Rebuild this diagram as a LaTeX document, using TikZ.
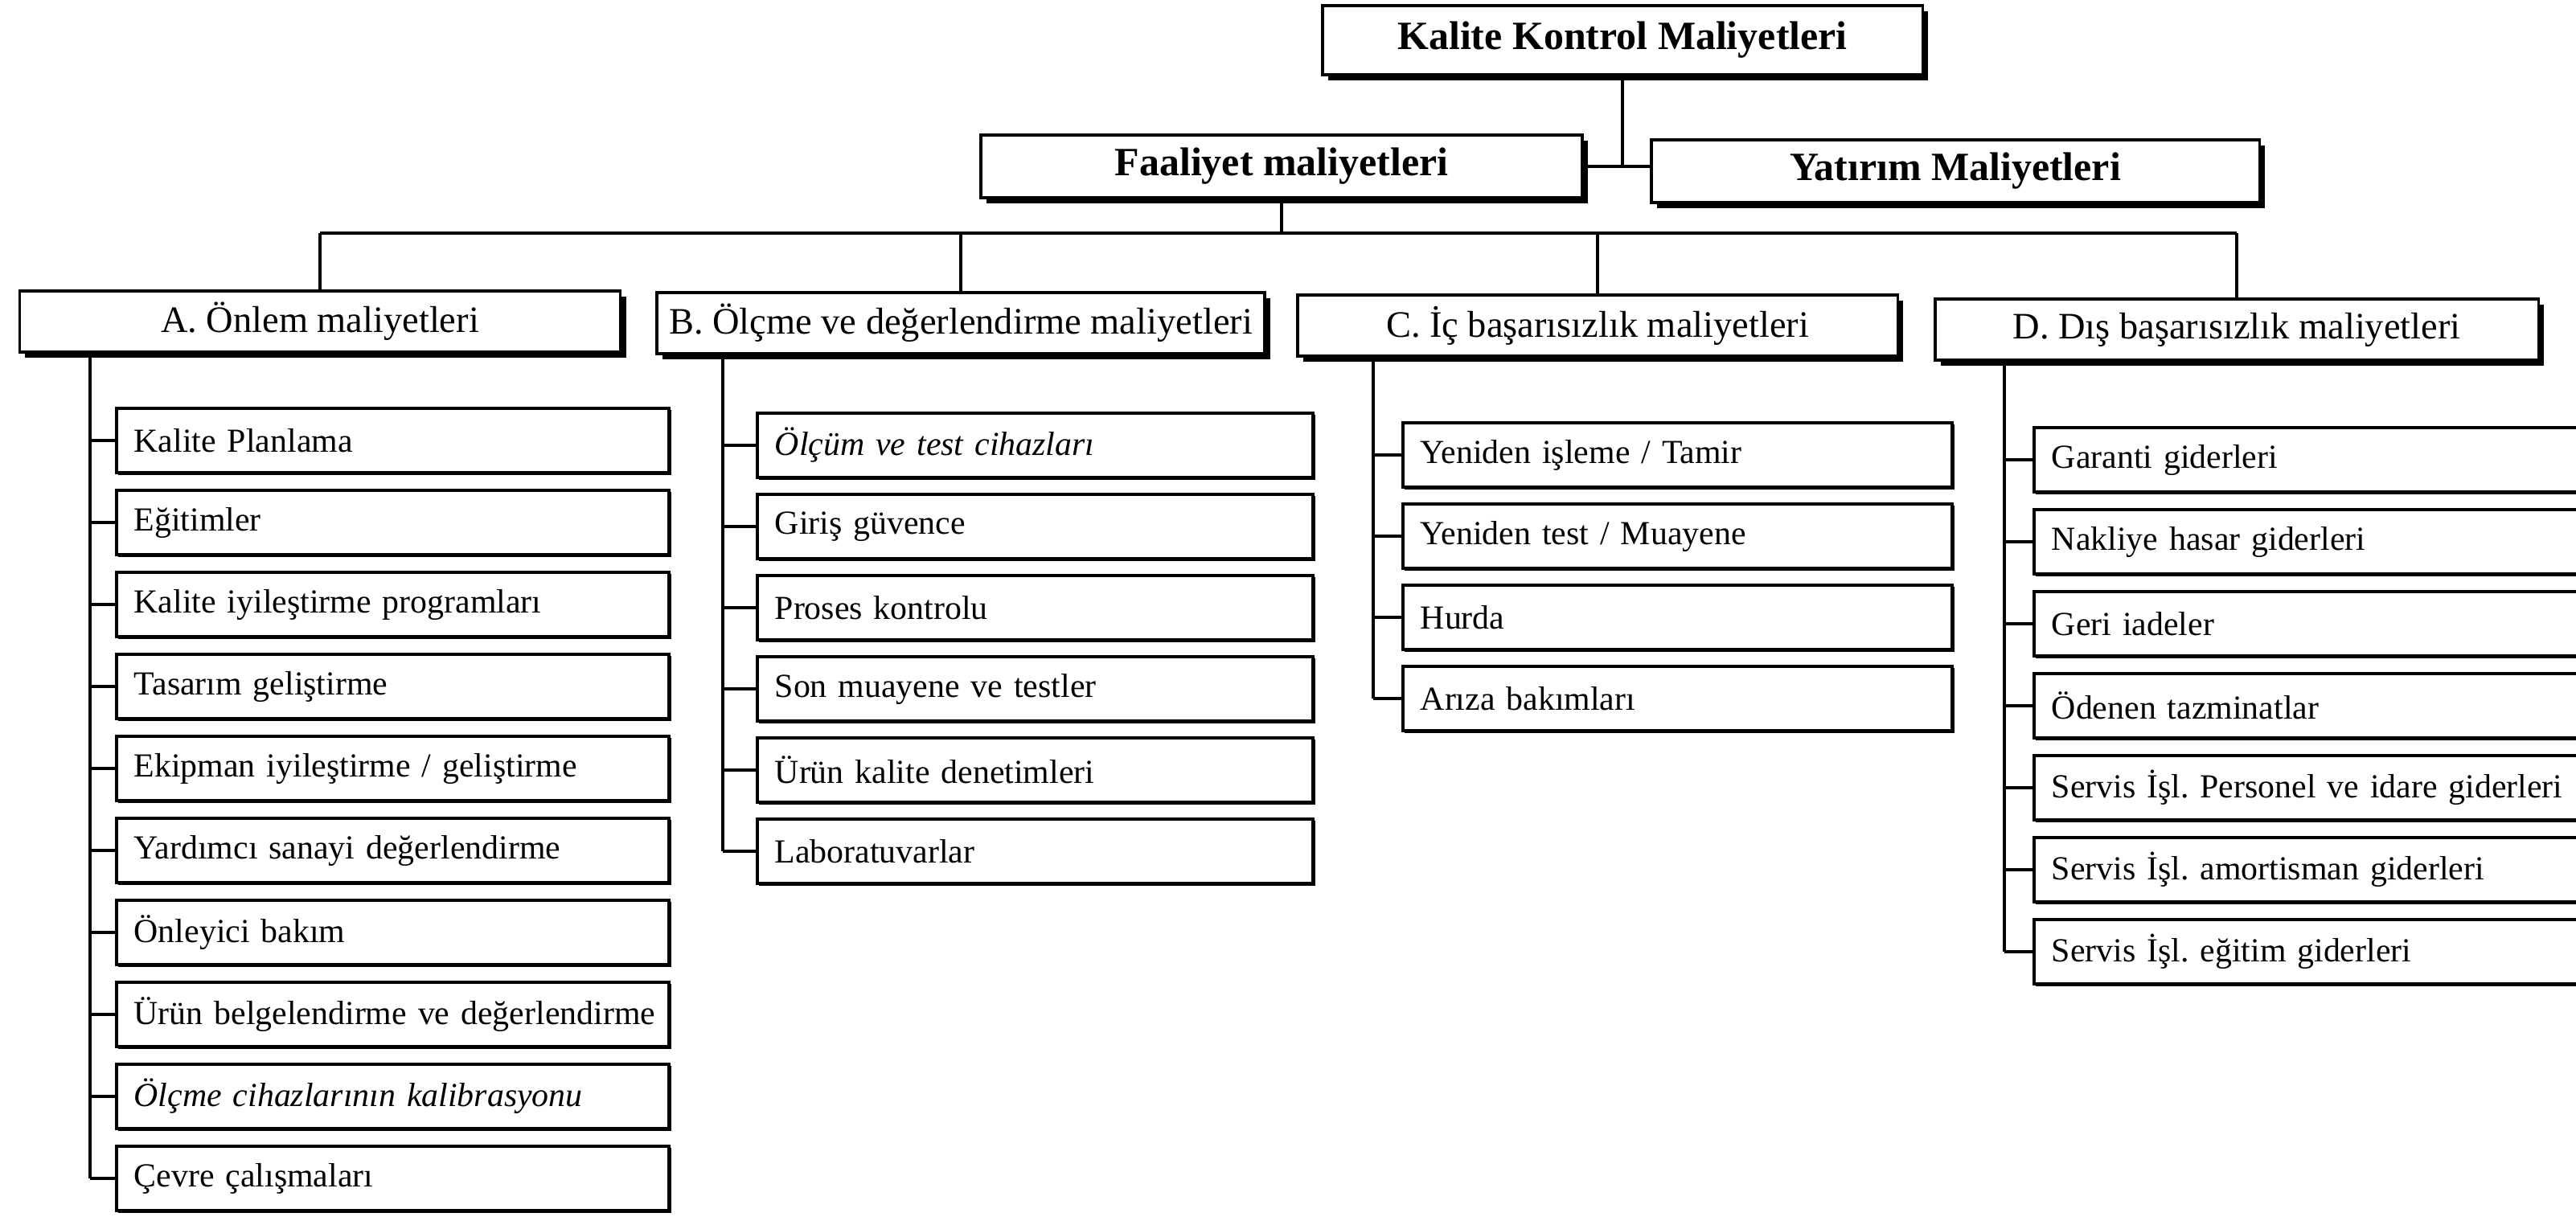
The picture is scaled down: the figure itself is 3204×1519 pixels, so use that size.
\documentclass[tikz,border=0pt]{standalone}
\usepackage{fontspec}
\setmainfont{Liberation Serif}
\usetikzlibrary{shadows}
\frenchspacing
\begin{document}
\begin{tikzpicture}[x=0.01cm,y=-0.01cm,
  conn/.style={draw, line width=1.1pt},
  mainbox/.style={draw, line width=1pt, fill=white, inner sep=0pt,
    drop shadow={shadow xshift=0.07cm, shadow yshift=-0.07cm, fill=black, opacity=1}},
  topbox/.style={mainbox, font=\fontsize{14.2}{16}\selectfont\bfseries},
  headbox/.style={mainbox, minimum height=0.76cm, font=\fontsize{13.2}{15}\selectfont},
  itembox/.style={draw, line width=1pt, fill=white, anchor=west, minimum height=0.8cm,
    inner xsep=0.22cm, inner ysep=0pt, align=left, font=\fontsize{11.9}{14}\selectfont,
    drop shadow={shadow xshift=0.025cm, shadow yshift=-0.025cm, fill=black, opacity=1}}]
\fill[white] (0,0) rectangle (3204,1519);
\useasboundingbox (0,0) rectangle (3204,1519);

% top level
\node[topbox, minimum width=7.46cm, minimum height=0.86cm] (K) at (2018,50) {Kalite Kontrol Maliyetleri};
\node[topbox, minimum width=7.48cm, minimum height=0.78cm] (F) at (1594,207) {Faaliyet maliyetleri};
\node[topbox, minimum width=7.56cm, minimum height=0.78cm] (Y) at (2432,213) {Yatırım Maliyetleri};

% category headers
\node[headbox, minimum width=7.47cm] (A) at (398,400) {A. Önlem maliyetleri};
\node[headbox, minimum width=7.56cm] (B) at (1195,402) {B. Ölçme ve değerlendirme maliyetleri};
\node[headbox, minimum width=7.46cm] (C) at (1987,405) {C. İç başarısızlık maliyetleri};
\node[headbox, minimum width=7.50cm] (D) at (2782,410) {D. Dış başarısızlık maliyetleri};

% items A
\foreach [count=\i] \t in {Kalite Planlama, Eğitimler, Kalite iyileştirme programları,
  Tasarım geliştirme, Ekipman iyileştirme / geliştirme, Yardımcı sanayi değerlendirme,
  Önleyici bakım, Ürün belgelendirme ve değerlendirme,
  {\itshape Ölçme cihazlarının kalibrasyonu}, Çevre çalışmaları}
  \node[itembox, text width=6.43cm] (A\i) at (143,{548+102*(\i-1)}) {\mbox{\t}};
% items B
\foreach [count=\i] \t in {{\itshape Ölçüm ve test cihazları}, Giriş güvence, Proses kontrolu,
  Son muayene ve testler, Ürün kalite denetimleri, Laboratuvarlar}
  \node[itembox, text width=6.47cm] (B\i) at (940,{554+101*(\i-1)}) {\mbox{\t}};
% items C
\foreach [count=\i] \t in {Yeniden işleme / Tamir, Yeniden test / Muayene, Hurda, Arıza bakımları}
  \node[itembox, text width=6.39cm] (C\i) at (1743,{566+101*(\i-1)}) {\mbox{\t}};
% items D
\foreach [count=\i] \t in {Garanti giderleri, Nakliye hasar giderleri, Geri iadeler,
  Ödenen tazminatlar, Servis İşl. Personel ve idare giderleri,
  Servis İşl. amortisman giderleri, Servis İşl. eğitim giderleri}
  \node[itembox, text width=6.8cm] (D\i) at (2528,{572+102*(\i-1)}) {\mbox{\t}};

% connectors top
\draw[conn] (K.south) -- (K.south |- F.east);
\draw[conn] (F.east) -- (F.east -| Y.west);
\coordinate (bus) at (0,290);
\draw[conn] (F.south) -- (F.south |- bus);
\draw[conn] (A.north |- bus) -- (D.north |- bus);
\foreach \h in {A,B,C,D}
  \draw[conn] (\h.north |- bus) -- (\h.north);

% trunks
\coordinate (tA) at (112,0);
\coordinate (tB) at (899,0);
\coordinate (tC) at (1708,0);
\coordinate (tD) at (2493,0);
\draw[conn] (tA |- A.south) -- (tA |- A10.west);
\draw[conn] (tB |- B.south) -- (tB |- B6.west);
\draw[conn] (tC |- C.south) -- (tC |- C4.west);
\draw[conn] (tD |- D.south) -- (tD |- D7.west);
\foreach \i in {1,...,10} \draw[conn] (tA |- A\i.west) -- (A\i.west);
\foreach \i in {1,...,6} \draw[conn] (tB |- B\i.west) -- (B\i.west);
\foreach \i in {1,...,4} \draw[conn] (tC |- C\i.west) -- (C\i.west);
\foreach \i in {1,...,7} \draw[conn] (tD |- D\i.west) -- (D\i.west);
\end{tikzpicture}
\end{document}
